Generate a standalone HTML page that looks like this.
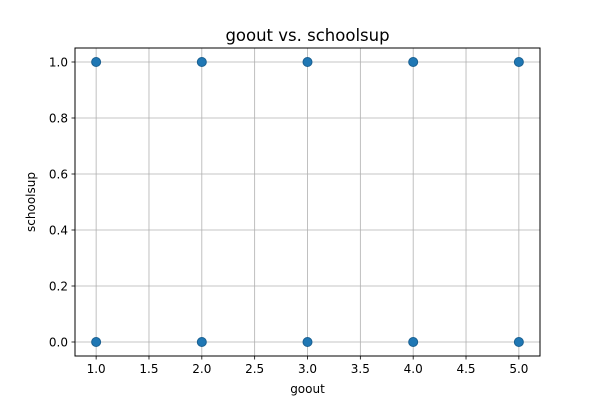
<!DOCTYPE html>
<html><head><meta charset="utf-8"><style>
body{margin:0;background:#fff;}
svg{font-family:"DejaVu Sans","Liberation Sans",sans-serif;}
</style></head><body>
<svg id="chart" width="600" height="400" xmlns="http://www.w3.org/2000/svg">
<rect width="600" height="400" fill="#fff"/>
<g id="grid"></g>
<g id="points"></g>
<rect x="75" y="48" width="465" height="308" fill="none" stroke="#000" stroke-width="1"/>
<g id="xticks"></g>
<g id="yticks"></g>
<text x="307.5" y="41" text-anchor="middle" font-size="16.5">goout vs. schoolsup</text>
<text x="307.5" y="393" text-anchor="middle" font-size="12">goout</text>
<text transform="translate(35,202) rotate(-90)" text-anchor="middle" font-size="12">schoolsup</text>
</svg>
<script>
const xVals=[1,2,3,4,5,1,2,3,4,5];
const yVals=[1,1,1,1,1,0,0,0,0,0];
const xTicks=[1.0,1.5,2.0,2.5,3.0,3.5,4.0,4.5,5.0];
const yTicks=[0.0,0.2,0.4,0.6,0.8,1.0];
const NS="http://www.w3.org/2000/svg";
const L=75,R=540,T=48,B=356;
const xs=v=>L+(v-0.8)/(5.2-0.8)*(R-L);
const ys=v=>B-(v+0.05)/(1.1)*(B-T);
function mk(tag,attrs,parent){const e=document.createElementNS(NS,tag);for(const k in attrs)e.setAttribute(k,attrs[k]);document.getElementById(parent).appendChild(e);return e;}
xTicks.forEach(t=>{const x=xs(t);
 const g=mk('line',{x1:x,x2:x,y1:T,y2:B,stroke:'#b0b0b0','stroke-width':0.8},'grid');
 
 
 const tk=mk('line',{x1:x,x2:x,y1:B,y2:B+3.5,stroke:'#000','stroke-width':0.8},'xticks');
 
 
 const tx=mk('text',{x:x,y:B+17,'text-anchor':'middle','font-size':12},'xticks');
 tx.textContent=t.toFixed(1);
 
 
});
yTicks.forEach(t=>{const y=ys(t);
 const g=mk('line',{x1:L,x2:R,y1:y,y2:y,stroke:'#b0b0b0','stroke-width':0.8},'grid');
 
 
 const tk=mk('line',{x1:L-3.5,x2:L,y1:y,y2:y,stroke:'#000','stroke-width':0.8},'yticks');
 
 
 const tx=mk('text',{x:L-7,y:y+4.3,'text-anchor':'end','font-size':12},'yticks');
 tx.textContent=t.toFixed(1);
 
 
});
xVals.forEach((v,i)=>{
 const c=mk('circle',{cx:xs(v),cy:ys(yVals[i]),r:4.5,fill:'#1f77b4',stroke:'#195f90','stroke-width':1},'points');
 
 
});
</script>
</body></html>
